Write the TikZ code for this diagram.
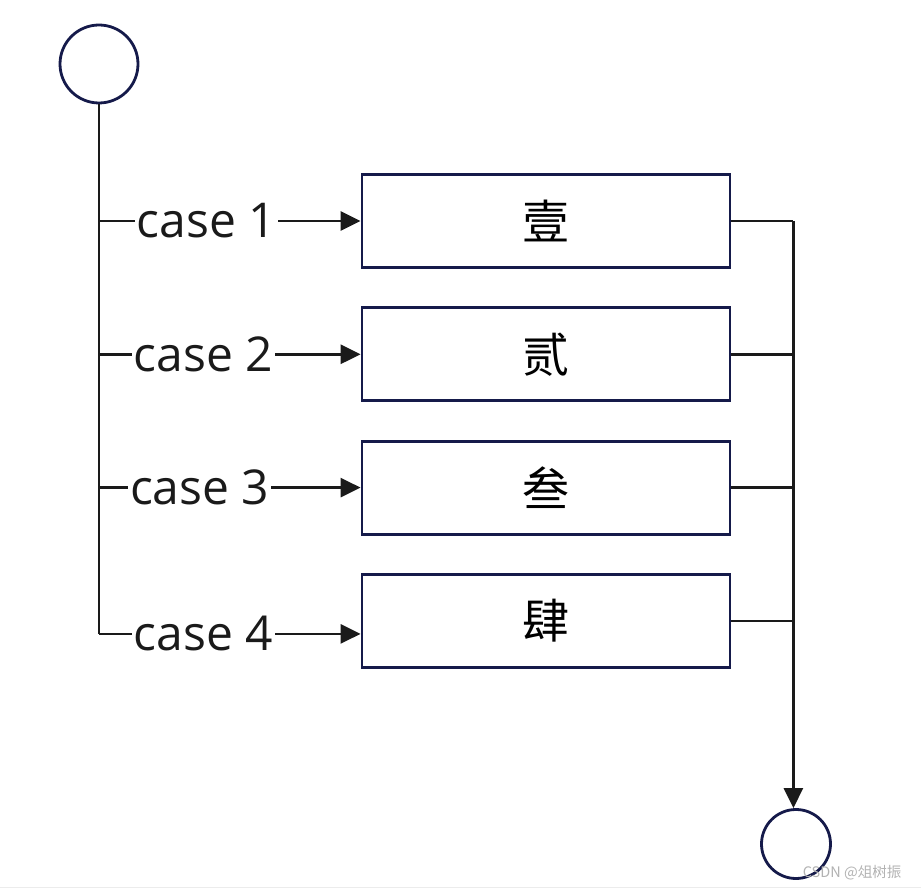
\documentclass[tikz,border=0pt]{standalone}
\usepackage{fontspec}
\setmainfont{Open Sans}
\newfontfamily\cjk{Noto Sans CJK SC}
\usetikzlibrary{positioning, arrows.meta}
\definecolor{navy}{HTML}{151A4A}
\definecolor{ink}{HTML}{1A1A1A}

\begin{document}
\begin{tikzpicture}[x=1pt, y=-1pt, node distance=37.5pt,
    line width=2.8pt, >={Triangle[length=20pt, width=19pt]}]
    \useasboundingbox (0,0) rectangle (921,890);

    % Start and end circles
    \node[circle, draw=navy, minimum size=78pt] (start) at (99,64) {};
    \node[circle, draw=navy, minimum size=69pt] (end) at (796,844) {};

    % Case boxes
    \node[rectangle, draw=navy, minimum width=368pt, minimum height=93pt, font=\cjk\fontsize{47}{50}\selectfont] (one) at (546,221) {壹};
    \node[rectangle, draw=navy, minimum width=368pt, minimum height=93pt, font=\cjk\fontsize{47}{50}\selectfont, below=of one] (two) {贰};
    \node[rectangle, draw=navy, minimum width=368pt, minimum height=93pt, font=\cjk\fontsize{47}{50}\selectfont, below=of two] (three) {叁};
    \node[rectangle, draw=navy, minimum width=368pt, minimum height=93pt, font=\cjk\fontsize{47}{50}\selectfont, below=of three] (four) {肆};

    % Branch points on the trunk
    \coordinate (b1) at (start.south |- one.west);
    \coordinate (b2) at (start.south |- two.west);
    \coordinate (b3) at (start.south |- three.west);
    \coordinate (b4) at ([yshift=-13pt]start.south |- four.west);

    % Trunk and cases
    \draw[ink] (start) -- (b4);
    \draw[->, ink] (b1) -- (one.west) node[pos=0.41, fill=white, inner sep=2pt, font=\fontsize{48}{50}\selectfont] {case 1};
    \draw[->, ink] (b2) -- (two.west) node[pos=0.4, fill=white, inner sep=2pt, font=\fontsize{48}{50}\selectfont] {case 2};
    \draw[->, ink] (b3) -- (three.west) node[pos=0.385, fill=white, inner sep=2pt, font=\fontsize{48}{50}\selectfont] {case 3};
    \draw[->, ink] (b4) -- (b4 -| four.west) node[pos=0.4, fill=white, inner sep=2pt, font=\fontsize{48}{50}\selectfont] {case 4};

    % Merge to the end
    \draw[ink] (one.east) -- ++(62,0) coordinate (m1);
    \draw[ink] (two.east) -- (two.east -| m1);
    \draw[ink] (three.east) -- (three.east -| m1);
    \draw[ink] (four.east) -- (four.east -| m1);
    \draw[->, ink] (m1) -- (m1 |- end.north);

    % Watermark
    \node[anchor=east, text=gray!60, font=\cjk\fontsize{14.5}{16}\selectfont] (mark) at (906,873) {CSDN @俎树振};
    \draw[gray!15, line width=1pt] (0,887) -- (921,887);
\end{tikzpicture}
\end{document}
